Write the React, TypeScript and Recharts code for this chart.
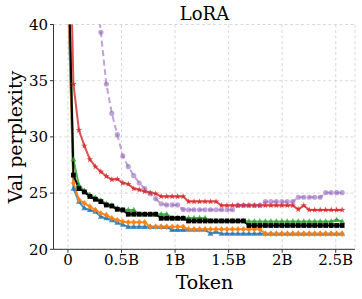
import React from "react";
import { LineChart, Line, XAxis, YAxis, CartesianGrid } from "recharts";

const tokens = [
  0, 0.0512, 0.1024, 0.1536, 0.2048, 0.256, 0.3072, 0.3584, 0.4096, 0.4608,
  0.512, 0.5632, 0.6144, 0.6656, 0.7168, 0.768, 0.8192, 0.8704, 0.9216, 0.9728,
  1.024, 1.0752, 1.1264, 1.1776, 1.2288, 1.28, 1.3312, 1.3824, 1.4336, 1.4848,
  1.536, 1.5872, 1.6384, 1.6896, 1.7408, 1.792, 1.8432, 1.8944, 1.9456, 1.9968,
  2.048, 2.0992, 2.1504, 2.2016, 2.2528, 2.304, 2.3552, 2.4064, 2.4576, 2.5088, 2.56,
];

const redSeries = [
  56, 34.7, 30.6, 29.2, 28.0, 27.35, 26.9, 26.5, 26.2, 26.25,
  25.9, 25.8, 25.4, 25.3, 25.15, 25.05, 24.95, 24.7, 24.7, 24.7,
  24.7, 24.7, 24.25, 24.25, 24.25, 24.25, 24.25, 24.25, 23.9, 23.9,
  23.9, 23.9, 23.9, 23.9, 23.9, 23.9, 23.9, 23.9, 23.9, 23.9,
  23.9, 23.9, 23.55, 23.9, 23.5, 23.5, 23.5, 23.5, 23.5, 23.5, 23.5,
];

const purpleSeries = [
  90, 75, 62, 53, 47, 43.5, 39.3, 34.7, 32.1, 30.2,
  28.3, 27.35, 26.55, 25.9, 25.4, 24.95, 24.5, 24.05, 23.95, 23.95,
  23.95, 23.55, 23.52, 23.52, 23.52, 23.52, 23.52, 23.52, 23.52, 23.52,
  23.52, 23.9, 23.9, 23.9, 23.9, 23.9, 24.24, 24.24, 24.24, 24.24,
  24.24, 24.24, 24.63, 24.63, 24.63, 24.63, 24.63, 25.04, 25.04, 25.04, 25.04,
];

const greenSeries = [
  46, 28.0, 25.7, 25.2, 24.85, 24.6, 24.35, 24.05, 23.9, 23.65,
  23.5, 23.5, 23.5, 23.12, 23.12, 23.12, 23.12, 23.12, 23.12, 22.78,
  22.78, 22.78, 22.78, 22.78, 22.78, 22.78, 22.52, 22.52, 22.52, 22.52,
  22.52, 22.52, 22.52, 22.48, 22.48, 22.48, 22.48, 22.48, 22.48, 22.48,
  22.48, 22.48, 22.48, 22.48, 22.48, 22.48, 22.48, 22.48, 22.48, 22.62, 22.48,
];

const blackSeries = [
  47, 26.6, 25.4, 25.1, 24.7, 24.45, 24.24, 23.94, 23.85, 23.56,
  23.5, 23.12, 23.12, 23.12, 23.12, 23.12, 23.12, 22.76, 22.76, 22.76,
  22.76, 22.76, 22.52, 22.52, 22.52, 22.52, 22.52, 22.52, 22.52, 22.52,
  22.52, 22.52, 22.52, 22.12, 22.12, 22.12, 22.12, 22.12, 22.12, 22.12,
  22.12, 22.12, 22.12, 22.12, 22.12, 22.12, 22.12, 22.12, 22.12, 22.12, 22.12,
];

const orangeSeries = [
  43.5, 25.9, 24.4, 24.1, 23.8, 23.5, 23.2, 23.05, 22.76, 22.6,
  22.46, 22.4, 22.4, 22.4, 22.4, 22.0, 22.0, 22.0, 22.0, 22.0,
  22.0, 22.0, 21.78, 21.78, 21.78, 21.78, 21.78, 21.78, 21.78, 21.78,
  21.78, 21.78, 21.78, 21.78, 21.78, 21.78, 21.38, 21.38, 21.38, 21.38,
  21.38, 21.38, 21.38, 21.38, 21.38, 21.38, 21.38, 21.38, 21.38, 21.38, 21.38,
];

const blueSeries = [
  43, 25.4, 24.24, 23.65, 23.5, 23.35, 22.9, 22.76, 22.6, 22.37,
  22.2, 22.0, 22.0, 22.0, 22.0, 22.0, 22.0, 22.0, 22.0, 21.72,
  21.72, 21.72, 21.75, 21.75, 21.75, 21.75, 21.4, 21.55, 21.38, 21.38,
  21.38, 21.38, 21.38, 21.38, 21.38, 21.38, 21.38, 21.38, 21.38, 21.38,
  21.38, 21.38, 21.38, 21.38, 21.38, 21.38, 21.38, 21.38, 21.38, 21.38, 21.38,
];

const xTicks = [0, 0.5, 1, 1.5, 2, 2.5];
const xTickLabels = ["0", "0.5B", "1B", "1.5B", "2B", "2.5B"];
const yTicks = [20, 25, 30, 35, 40];

const data = tokens.map((t, i) => ({
  t,
  red: redSeries[i],
  purple: purpleSeries[i],
  green: greenSeries[i],
  black: blackSeries[i],
  orange: orangeSeries[i],
  blue: blueSeries[i],
}));

const FONT = "'DejaVu Serif', serif";

const mk = (kind: string, color: string, op: number) => (props: any) => {
  const { cx, cy, index } = props;
  if (cx == null || cy == null || isNaN(cx) || isNaN(cy)) return <g key={`d${index}`} />;
  const k = `d${index}`;
  if (kind === "circle") return <circle key={k} cx={cx} cy={cy} r={2.6} fill={color} fillOpacity={op} />;
  if (kind === "square")
    return <rect key={k} x={cx - 2.4} y={cy - 2.4} width={4.8} height={4.8} fill={color} fillOpacity={op} />;
  if (kind === "tri") {
    const r = 3.2;
    return (
      <polygon
        key={k}
        points={`${cx},${cy - r} ${cx - r * 0.95},${cy + r * 0.65} ${cx + r * 0.95},${cy + r * 0.65}`}
        fill={color}
        fillOpacity={op}
      />
    );
  }
  if (kind === "diamond") {
    const r = 3.2;
    return (
      <polygon
        key={k}
        points={`${cx},${cy - r} ${cx + r * 0.8},${cy} ${cx},${cy + r} ${cx - r * 0.8},${cy}`}
        fill={color}
        fillOpacity={op}
      />
    );
  }
  // star
  const pts: string[] = [];
  for (let j = 0; j < 10; j++) {
    const rr = j % 2 === 0 ? 3.4 : 1.4;
    const a = -Math.PI / 2 + (j * Math.PI) / 5;
    pts.push(`${cx + rr * Math.cos(a)},${cy + rr * Math.sin(a)}`);
  }
  return <polygon key={k} points={pts.join(" ")} fill={color} fillOpacity={op} />;
};

export default function App() {
  return (
    <div style={{ position: "absolute", left: 0, top: 0, width: 362, height: 299, background: "#fff" }}>
      <LineChart
        width={362}
        height={299}
        data={data}
        margin={{ top: 24.5, right: 7, left: 0, bottom: 0 }}
        style={{ fontFamily: FONT }}
      >
        <CartesianGrid stroke="#cfcfcf" strokeDasharray="3 2.5" strokeWidth={0.8} />
        <XAxis
          dataKey="t"
          type="number"
          domain={[-0.135, 2.68]}
          ticks={xTicks}
          tickFormatter={(v: number) => xTickLabels[xTicks.indexOf(v)] ?? String(v)}
          allowDataOverflow
          height={49.7}
          tickSize={3.5}
          tickMargin={2}
          stroke="#333"
          tick={{ fill: "#000", fontSize: 15, fontFamily: FONT }}
          interval={0}
        />
        <XAxis
          xAxisId="top"
          orientation="top"
          type="number"
          domain={[-0.135, 2.68]}
          allowDataOverflow
          height={0}
          tick={false}
          tickLine={false}
          stroke="#777"
        />
        <YAxis
          type="number"
          domain={[20, 40]}
          ticks={yTicks}
          allowDataOverflow
          width={53.5}
          tickSize={3.5}
          tickMargin={2}
          stroke="#333"
          tick={{ fill: "#000", fontSize: 15, fontFamily: FONT }}
          interval={0}
        />
        <YAxis
          yAxisId="right"
          orientation="right"
          type="number"
          domain={[20, 40]}
          width={0}
          tick={false}
          tickLine={false}
          stroke="#777"
        />
        <Line
          dataKey="purple"
          stroke="#9467bd"
          strokeOpacity={0.6}
          strokeWidth={2}
          strokeDasharray="6 3.5"
          dot={mk("circle", "#9467bd", 0.6)}
          isAnimationActive={false}
        />
        <Line
          dataKey="red"
          stroke="#d62728"
          strokeOpacity={0.8}
          strokeWidth={2}
          dot={mk("star", "#d62728", 0.8)}
          isAnimationActive={false}
        />
        <Line
          dataKey="blue"
          stroke="#1f77b4"
          strokeOpacity={0.8}
          strokeWidth={2}
          dot={mk("tri", "#1f77b4", 0.8)}
          isAnimationActive={false}
        />
        <Line
          dataKey="orange"
          stroke="#ff7f0e"
          strokeOpacity={0.9}
          strokeWidth={2}
          dot={mk("diamond", "#ff7f0e", 0.9)}
          isAnimationActive={false}
        />
        <Line
          dataKey="green"
          stroke="#2ca02c"
          strokeOpacity={0.8}
          strokeWidth={2}
          dot={mk("tri", "#2ca02c", 0.8)}
          isAnimationActive={false}
        />
        <Line
          dataKey="black"
          stroke="#000"
          strokeWidth={2}
          dot={mk("square", "#000", 1)}
          isAnimationActive={false}
        />
        <text x={204.5} y={20} textAnchor="middle" fontSize={18} fontFamily={FONT} fill="#000">
          LoRA
        </text>
        <text x={204.5} y={289} textAnchor="middle" fontSize={19} fontFamily={FONT} fill="#000">
          Token
        </text>
        <text
          x={15}
          y={137}
          transform="rotate(-90 15 137)"
          textAnchor="middle"
          dominantBaseline="central"
          fontSize={19}
          fontFamily={FONT}
          fill="#000"
        >
          Val perplexity
        </text>
      </LineChart>
    </div>
  );
}
